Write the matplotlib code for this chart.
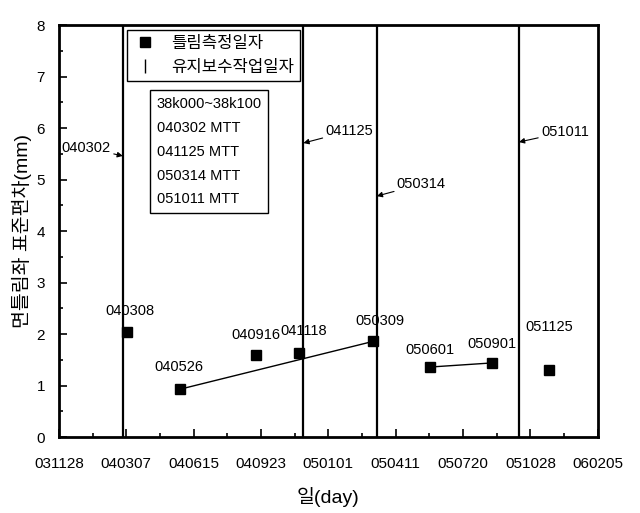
import datetime as dt
import matplotlib
matplotlib.use('Agg')
import matplotlib.pyplot as plt
from matplotlib.lines import Line2D
from matplotlib.ticker import MultipleLocator

plt.rcParams['font.family'] = ['Liberation Sans', 'Noto Sans CJK KR', 'DejaVu Sans']

# data (dates as yymmdd)
start = '031128'
measure_dates = ['040308', '040526', '040916', '041118', '050309', '050601', '050901', '051125']
measure_vals = [2.04, 0.93, 1.59, 1.63, 1.86, 1.36, 1.44, 1.30]
work_dates = ['040302', '041125', '050314', '051011']
work_arrow_y = [5.46, 5.71, 4.68, 5.73]
tick_labels = ['031128', '040307', '040615', '040923', '050101',
               '050411', '050720', '051028', '060205']
connected = [(1, 4), (5, 6)]
box_lines = ['38k000~38k100', '040302 MTT', '041125 MTT', '050314 MTT', '051011 MTT']


def days(s):
    d = dt.date(2000 + int(s[:2]), int(s[2:4]), int(s[4:]))
    d0 = dt.date(2000 + int(start[:2]), int(start[2:4]), int(start[4:]))
    return (d - d0).days


def main():
    fig = plt.figure(figsize=(6.4, 5.13), dpi=100)
    ax = fig.add_axes([0.092, 0.148, 0.842, 0.803])

    mx = [days(s) for s in measure_dates]
    wx = [days(s) for s in work_dates]

    for x in wx:
        ax.axvline(x, color='black', lw=1.6)

    for i, j in connected:
        ax.plot(mx[i:j + 1:j - i], measure_vals[i:j + 1:j - i], color='black', lw=1)
    ax.plot(mx, measure_vals, 's', color='black', ms=7, ls='none')

    # point labels (pixel offsets)
    offs = [(3, 14), (-1, 15), (0, 13), (5, 15), (6, 13), (0, 10), (0, 12), (0, 36)]
    for x, y, lab, o in zip(mx, measure_vals, measure_dates, offs):
        ax.annotate(lab, (x, y), xytext=o, textcoords='offset pixels',
                    ha='center', va='bottom', fontsize=10.5)

    # maintenance labels with arrows
    toffs = [(-61, 8), (22, 12), (20, 12), (22, 10)]
    for x, y, lab, o in zip(wx, work_arrow_y, work_dates, toffs):
        ax.annotate(lab, (x, y), xytext=o, textcoords='offset pixels',
                    ha='left', va='center', fontsize=10.5,
                    arrowprops=dict(arrowstyle='-|>', color='black', lw=0.8,
                                    shrinkA=0, shrinkB=0, mutation_scale=8))

    ax.set_xlim(0, 800)
    ax.set_ylim(0, 8)
    ax.set_xticks(range(0, 801, 100))
    ax.set_xticklabels(tick_labels)
    ax.xaxis.set_minor_locator(MultipleLocator(50))
    ax.yaxis.set_minor_locator(MultipleLocator(0.5))
    ax.tick_params(which='both', direction='in', labelsize=11, top=False, right=False)
    ax.tick_params(which='major', length=6, width=1.2)
    ax.tick_params(which='minor', length=3, width=1.2)
    ax.tick_params(axis='x', pad=14)
    ax.tick_params(axis='y', pad=10)
    for sp in ax.spines.values():
        sp.set_linewidth(2)

    ax.set_xlabel('일(day)', fontsize=14, labelpad=12)
    ax.set_ylabel('면틀림좌 표준편차(mm)', fontsize=14, labelpad=3)

    h1 = [Line2D([], [], marker='s', color='black', ls='none', ms=7),
          Line2D([], [], marker='|', color='black', ls='none', ms=10)]
    leg1 = ax.legend(h1, ['틀림측정일자', '유지보수작업일자'], loc='upper left',
                     bbox_to_anchor=(0.126, 0.988), borderaxespad=0, fontsize=12,
                     frameon=True, fancybox=False, edgecolor='black', framealpha=1,
                     handlelength=1.5, borderpad=0.35, labelspacing=0.55)
    leg1.get_frame().set_linewidth(1)
    ax.add_artist(leg1)

    h2 = [Line2D([], [], ls='none') for _ in box_lines]
    leg2 = ax.legend(h2, box_lines, loc='upper left', bbox_to_anchor=(0.169, 0.842),
                     borderaxespad=0, fontsize=10.5, frameon=True, fancybox=False,
                     edgecolor='black', framealpha=1, handlelength=0, handletextpad=0,
                     borderpad=0.45, labelspacing=0.68)
    leg2.get_frame().set_linewidth(1)

    fig.savefig('out.png', dpi=100)


if __name__ == '__main__':
    main()
